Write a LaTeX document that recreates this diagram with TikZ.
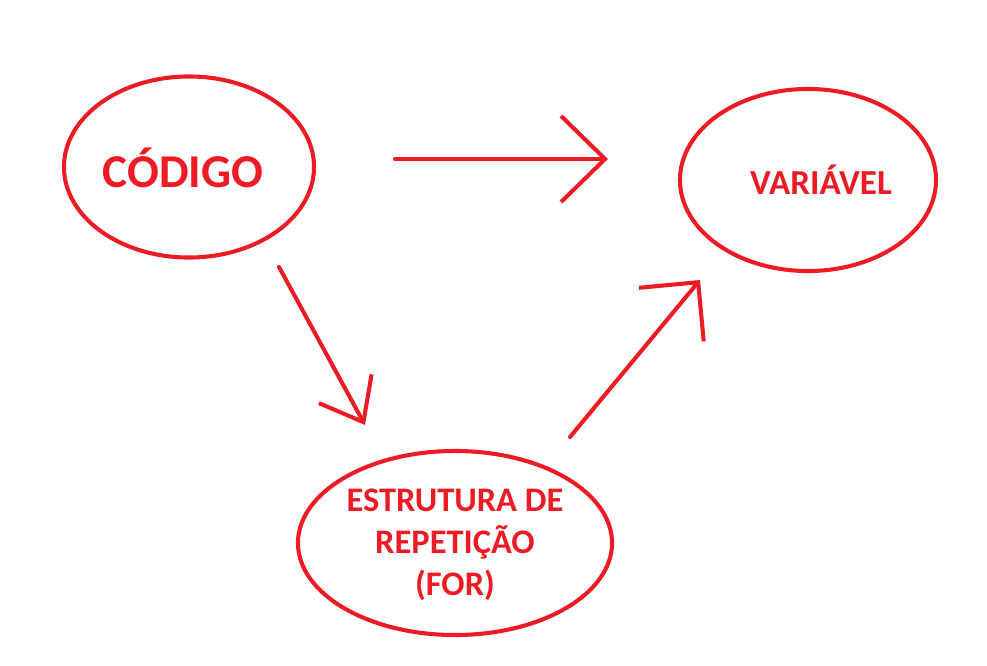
\documentclass[tikz,border=0pt]{standalone}
\usepackage{fontspec}
\setmainfont{Carlito}
\usetikzlibrary{shapes.geometric,arrows.meta}
\definecolor{paintred}{RGB}{237,28,36}

\begin{document}
\begin{tikzpicture}[x=0.025cm,y=-0.025cm,line width=2.9pt,line cap=round,line join=round]
\tikzset{bubble/.style={draw=paintred,ellipse,inner sep=0pt}}
\tikzset{word/.style={text=paintred,font=\bfseries,align=center}}
\useasboundingbox (0,0) rectangle (987,665);

\node[bubble,minimum width=6.25cm,minimum height=4.525cm] (codigo) at (189,167) {};
\node[bubble,minimum width=6.4cm,minimum height=4.55cm] (variavel) at (808,180) {};
\node[bubble,minimum width=7.85cm,minimum height=4.6cm] (estrutura) at (455,543) {};

\node[word,font=\fontsize{33.5}{40}\selectfont\bfseries] (codigotxt) at (183,168) {CÓDIGO};
\node[word,font=\fontsize{25}{30}\selectfont\bfseries] (variaveltxt) at (821,180) {VARIÁVEL};
\node[word,font=\fontsize{24.5}{29.9}\selectfont\bfseries] (estruturatxt) at (455,545) {ESTRUTURA DE\\REPETIÇÃO\\(FOR)};

\coordinate (a1) at (395,159);
\coordinate (b1) at (608,159);
\coordinate (a2) at (279,267);
\coordinate (b2) at (365,425);
\coordinate (a3) at (570,437);
\coordinate (b3) at (700,280);

\draw[paintred,-{Straight Barb[length=1.1cm,width=2.15cm]}] (a1) -- (b1);
\draw[paintred,-{Straight Barb[length=0.95cm,width=1.5cm]}] (a2) -- (b2);
\draw[paintred,-{Straight Barb[length=1.05cm,width=2.1cm]}] (a3) -- (b3);
\end{tikzpicture}
\end{document}
